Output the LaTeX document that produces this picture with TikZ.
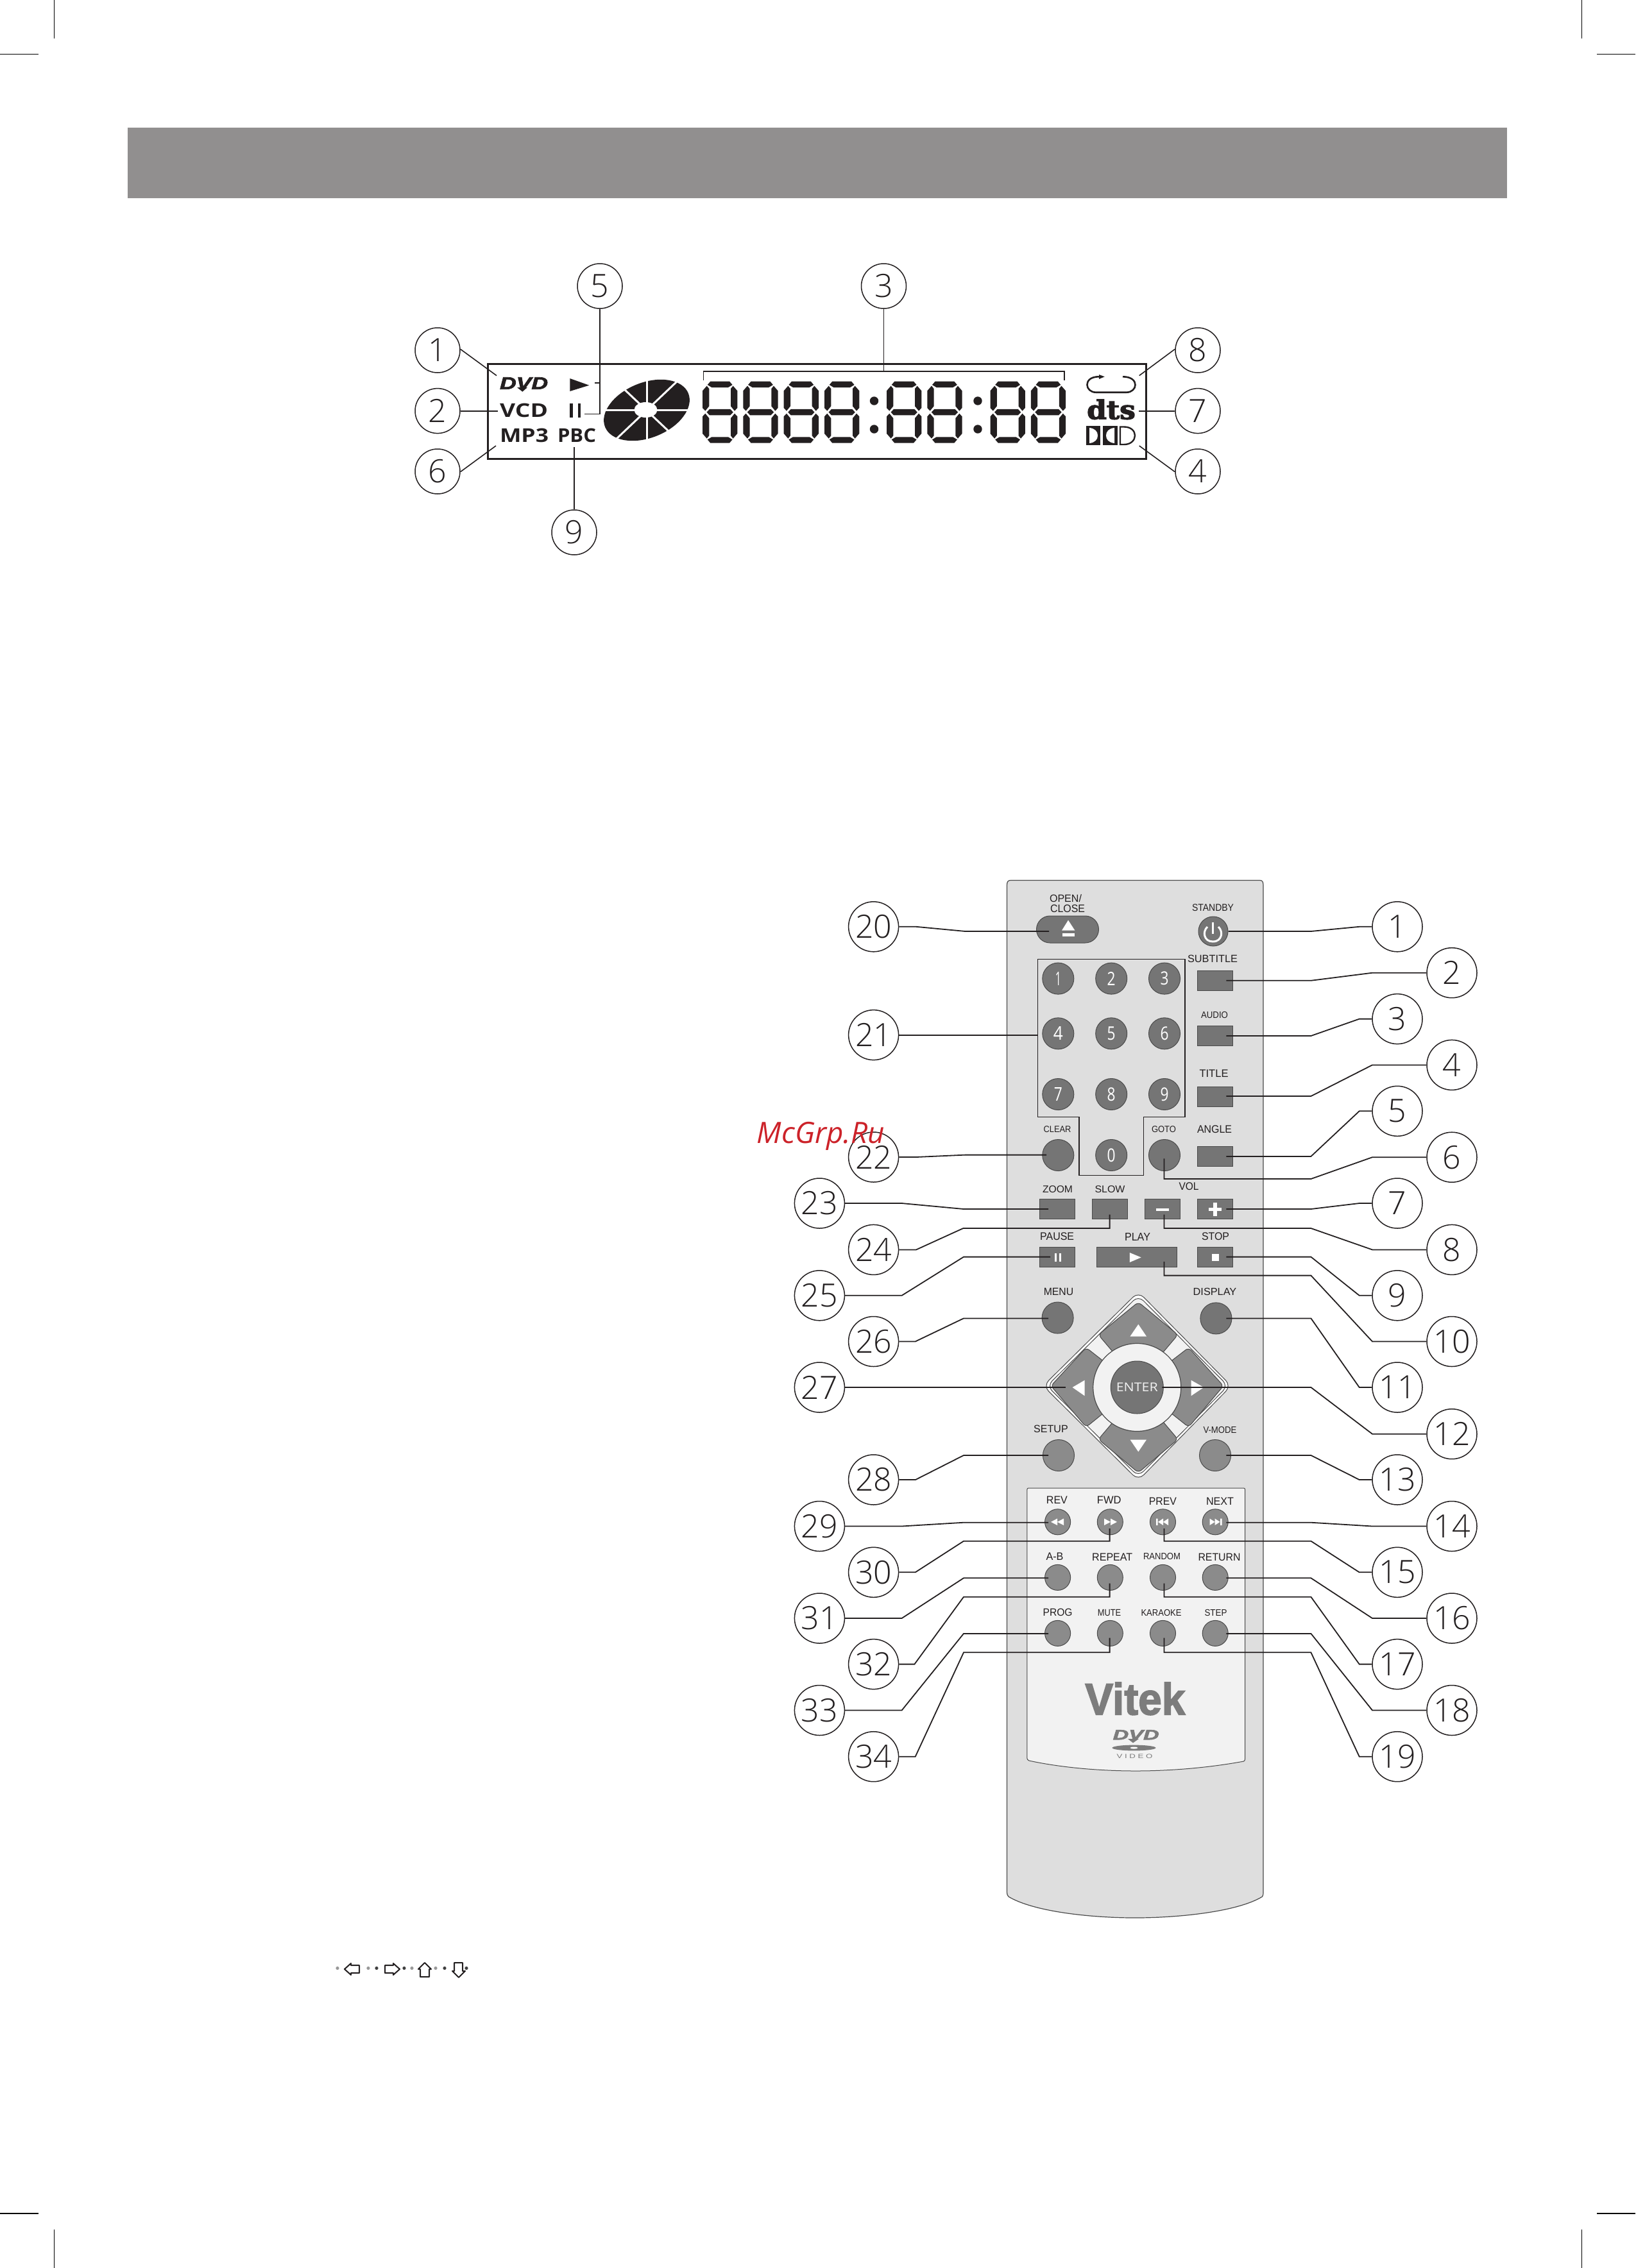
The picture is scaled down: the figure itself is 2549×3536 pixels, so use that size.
\documentclass[tikz,border=0pt]{standalone}
\usepackage{fontspec}
\usepackage{graphicx}
\setmainfont{Open Sans}
\newfontfamily\numf{Open Sans Light}
\newfontfamily\labf{Liberation Sans}
\newfontfamily\heavyf[FakeBold=2.5]{Liberation Sans}
\newfontfamily\dtsf[FakeBold=3]{DejaVu Serif}
\definecolor{ink}{HTML}{231F20}
\definecolor{band}{HTML}{918F8F}
\definecolor{bodyc}{HTML}{DEDEDE}
\definecolor{panelc}{HTML}{F2F2F2}
\definecolor{btnd}{HTML}{757575}
\definecolor{btnm}{HTML}{8B8B8B}
\definecolor{logoc}{HTML}{7C7C7C}
\definecolor{edge}{HTML}{4A4A4A}
\tikzset{
 num/.style={circle,draw=ink,line width=1.5pt,fill=white,inner sep=0pt,text=ink,font=\numf\fontsize{50}{50}\selectfont},
 numt/.style={num,minimum size=70pt},
 numr/.style={num,minimum size=78pt},
 conn/.style={draw=ink,line width=1.8pt,line join=miter},
 lcdl/.style={draw=ink,line width=1.6pt},
 lbl/.style={inner sep=0pt,text=ink,font=\labf},
 rbtn/.style={draw=edge,line width=1pt,fill=btnd,inner sep=0pt},
 rbtnm/.style={rbtn,fill=btnm},
 kcirc/.style={circle,rbtn,minimum size=49pt,text=white},
 mcirc/.style={circle,rbtnm,minimum size=49pt},
 scirc/.style={circle,rbtnm,minimum size=40pt},
 sqb/.style={rectangle,rbtn,minimum width=55pt,minimum height=31pt},
 icon/.style={fill=white,draw=none},
 pad/.style={fill=btnm,draw=edge,line width=1pt,rounded corners=6pt},
 crop/.style={draw=black,line width=1.6pt},
 arrowi/.style={draw=ink,line width=2pt,line join=round},
}
% label fitted into a box: name, x, y, width, height, text
\newcommand\lb[6]{\node[lbl] (#1) at (#2,#3) {\resizebox*{#4pt}{#5pt}{#6}};}
% connector: start node, middle path, end x, end y
\newcommand\cn[4]{\coordinate (e#1) at (#3,#4); \draw[conn] (#1) -- #2 -- (e#1);}
\begin{document}
\begin{tikzpicture}[x=1pt,y=-1pt]
\useasboundingbox (0,0) rectangle (2549,3536);
% crop marks
\draw[crop] (84.5,0) -- (84.5,60);
\draw[crop] (0,84.5) -- (60,84.5);
\draw[crop] (2465.5,0) -- (2465.5,60);
\draw[crop] (2489,84.5) -- (2549,84.5);
\draw[crop] (84.5,3476) -- (84.5,3536);
\draw[crop] (0,3451) -- (60,3451);
\draw[crop] (2465.5,3476) -- (2465.5,3536);
\draw[crop] (2489,3451) -- (2549,3451);
% band
\fill[band] (199,199) rectangle (2349,309);

%% ---------- LCD ----------
\draw[draw=ink,line width=3pt] (760.6,567) rectangle (1786,715);
% seven-segment digits
\foreach \dx in {1095,1158.3,1221.7,1285,1382,1445.3,1543.5,1606.8}{
 \begin{scope}[shift={(\dx,594.3)}]
  \fill[ink] (7.7,5.7)--(12.3,0.3)--(42,0.3)--(46.6,5.7)--(40,9.7)--(14.3,9.7)--cycle;
  \fill[ink] (7.7,91)--(12.3,96.4)--(42,96.4)--(46.6,91)--(40,87)--(14.3,87)--cycle;
  \fill[ink] (6.5,48.35)--(11,43.6)--(43.3,43.6)--(47.8,48.35)--(43.3,53.1)--(11,53.1)--cycle;
  \fill[ink] (0,15)--(6.7,7.3)--(10.3,11.7)--(10.3,39)--(4.3,46.3)--(0,41.7)--cycle;
  \fill[ink] (54.3,15)--(47.6,7.3)--(44,11.7)--(44,39)--(50,46.3)--(54.3,41.7)--cycle;
  \fill[ink] (0,81.7)--(6.7,89.4)--(10.3,85)--(10.3,57.7)--(4.3,50.4)--(0,55)--cycle;
  \fill[ink] (54.3,81.7)--(47.6,89.4)--(44,85)--(44,57.7)--(50,50.4)--(54.3,55)--cycle;
 \end{scope}}
\foreach \cx in {1362.5,1524}{
 \fill[ink] (\cx,625) circle[radius=6.7pt];
 \fill[ink] (\cx,669) circle[radius=6.7pt];}
% disc
\fill[ink,rotate around={22:(1008,639.5)}] (1008,639.5) ellipse[x radius=70pt,y radius=43pt];
\draw[white,line width=3pt] (935,639) -- (1080,639);
\draw[white,line width=3pt] (1008,588) -- (1008,692);
\draw[white,line width=3pt] (960,685) -- (1058,592);
\draw[white,line width=3pt] (972,606) -- (1044,674);
\fill[white] (1006.5,639) ellipse[x radius=18pt,y radius=12pt];
% texts of LCD
\node[lbl] (tdvd) at (816.6,597.5) {\resizebox*{75pt}{18.4pt}{\heavyf\itshape\bfseries DVD}};
\fill[ink] (806,604)--(822,604)--(814.3,610.7)--cycle;
\node[lbl,font=\bfseries] (tvcd) at (816.6,640.2) {\resizebox*{75pt}{21.7pt}{VCD}};
\node[lbl,font=\bfseries] (tmp3) at (817,679.2) {\resizebox*{76pt}{21.7pt}{MP3}};
\node[lbl,font=\bfseries] (tpbc) at (899,679.2) {\resizebox*{60pt}{21.7pt}{PBC}};
\fill[ink] (888.3,590)--(918.3,600.7)--(888.3,610)--cycle;
\fill[ink] (888.3,629.3) rectangle (892.7,651);
\fill[ink] (900.7,629.3) rectangle (905.3,651);
% repeat
\draw[ink,line width=2.6pt] (1713,587.3) .. controls (1698,587.3) and (1694.5,595) .. (1694.5,600)
  .. controls (1694.5,606) and (1700,611.7) .. (1708,611.7) -- (1756,611.7)
  .. controls (1764,611.7) and (1769.5,606) .. (1769.5,600) .. controls (1769.5,594) and (1764,587.3) .. (1750,587.3);
\fill[ink] (1721.7,587.3)--(1713,584)--(1713,591)--cycle;
\node[lbl] (tdts) at (1732,638.3) {\resizebox*{75.7pt}{31.3pt}{\dtsf\bfseries dts}};
% dolby
\fill[ink] (1693.3,664) rectangle (1715,694.3);
\fill[white] (1698,667) .. controls (1707,668) and (1711,673) .. (1711,679) .. controls (1711,685) and (1707,690) .. (1698,691) -- cycle;
\fill[ink] (1719.3,664) rectangle (1741.7,694.3);
\fill[white] (1737,667) .. controls (1728,668) and (1724,673) .. (1724,679) .. controls (1724,685) and (1728,690) .. (1737,691) -- cycle;
\draw[ink,line width=2.4pt] (1746,665.5) -- (1752,665.5) .. controls (1763,665.5) and (1769,672) .. (1769,679) .. controls (1769,686) and (1763,693) .. (1752,693) -- (1746,693) -- cycle;
% bracket
\draw[lcdl] (1096.4,593) -- (1096.4,579) -- (1658.7,579) -- (1658.7,593);
% LCD callouts
\node[numt] (t1) at (682,546) {1};
\node[numt] (t2) at (682,640.6) {2};
\node[numt] (t6) at (682,735) {6};
\node[numt] (t5) at (935,446) {5};
\node[numt] (t3) at (1377.5,446) {3};
\node[numt] (t8) at (1867,546) {8};
\node[numt] (t7) at (1867,640.6) {7};
\node[numt] (t4) at (1867,735) {4};
\node[numt] (t9) at (895,830) {9};
\coordinate (et1) at (774,585.6); \draw[lcdl] (t1) -- (718.5,545) -- (et1);
\coordinate (et2) at (775.7,640.6); \draw[lcdl,line width=2.2pt] (t2) -- (et2);
\coordinate (et6) at (773,695); \draw[lcdl] (t6) -- (718.5,735) -- (et6);
\coordinate (et5) at (911,645.3); \draw[lcdl] (t5) -- (935,645.3) -- (et5);
\coordinate (et5b) at (927,596.7); \draw[lcdl] (935,596.7) -- (et5b);
\coordinate (et3) at (1377.5,579); \draw[lcdl,line width=1.2pt] (t3) -- (et3);
\coordinate (et8) at (1775.7,585.6); \draw[lcdl] (t8) -- (1830.4,545) -- (et8);
\coordinate (et7) at (1775,640.6); \draw[lcdl,line width=2.2pt] (t7) -- (et7);
\coordinate (et4) at (1775.7,695); \draw[lcdl] (t4) -- (1830.4,735) -- (et4);
\coordinate (et9) at (895,697); \draw[lcdl,line width=1.2pt] (t9) -- (et9);

%% ---------- REMOTE ----------
\draw[draw=edge,line width=1.2pt,fill=bodyc] (1569.5,1380) .. controls (1569.5,1375) and (1571,1372.5) .. (1575,1372.5)
 -- (1964,1372.5) .. controls (1967.5,1372.5) and (1969,1375) .. (1969,1380)
 -- (1969,2950) .. controls (1969,2953) and (1969,2955) .. (1967.5,2957)
 .. controls (1930,2980) and (1840,2990) .. (1769,2990)
 .. controls (1698,2990) and (1610,2980) .. (1572,2957)
 .. controls (1570,2955) and (1569.5,2953) .. (1569.5,2950) -- cycle;
\draw[draw=edge,line width=1pt,fill=panelc] (1600.8,2323) .. controls (1600.8,2321) and (1601.5,2320) .. (1603,2320)
 -- (1938.5,2320) .. controls (1940,2320) and (1940.7,2321) .. (1940.7,2323)
 -- (1940.7,2741) .. controls (1940.7,2744) and (1940,2745.5) .. (1938.5,2746)
 .. controls (1890,2755) and (1830,2761) .. (1770,2761)
 .. controls (1710,2761) and (1650,2755) .. (1604,2745)
 .. controls (1602,2744) and (1600.8,2743) .. (1600.8,2741) -- cycle;
% keypad frame
\draw[draw=ink,line width=1.5pt] (1617.4,1495.7) -- (1847,1495.7) -- (1847,1741.3) -- (1782.5,1741.3) -- (1782.5,1832.3) -- (1681.8,1832.3) -- (1681.8,1741.3) -- (1617.4,1741.3) -- cycle;
% eject, standby
\node[rbtn,rectangle,rounded corners=21pt,minimum width=97pt,minimum height=42pt] (bEject) at (1664,1449) {};
\fill[icon] (1665,1434.6)--(1655,1450.6)--(1675.4,1450.6)--cycle;
\fill[icon] (1656,1454.6) rectangle (1675,1460.4);
\node[circle,rbtn,minimum size=46pt] (bStandby) at (1891,1452) {};
\draw[white,line width=3pt] (1882,1445) .. controls (1874,1452) and (1876,1468) .. (1890.4,1468) .. controls (1905,1468) and (1907,1452) .. (1899,1445);
\draw[white,line width=3pt] (1890.4,1438) -- (1890.4,1456);
% digit keys
\node[kcirc] (k1) at (1649.3,1525.6) {\resizebox*{9pt}{21pt}{1}};
\node[kcirc] (k2) at (1732.2,1525.6) {\resizebox*{13pt}{21pt}{2}};
\node[kcirc] (k3) at (1815,1525.6) {\resizebox*{13pt}{21pt}{3}};
\node[kcirc] (k4) at (1649.3,1611.3) {\resizebox*{15pt}{21pt}{4}};
\node[kcirc] (k5) at (1732.2,1611.3) {\resizebox*{13pt}{21pt}{5}};
\node[kcirc] (k6) at (1815,1611.3) {\resizebox*{13pt}{21pt}{6}};
\node[kcirc] (k7) at (1649.3,1706) {\resizebox*{13pt}{21pt}{7}};
\node[kcirc] (k8) at (1732.2,1706) {\resizebox*{13pt}{21pt}{8}};
\node[kcirc] (k9) at (1815,1706) {\resizebox*{13pt}{21pt}{9}};
\node[kcirc] (k0) at (1732.2,1801) {\resizebox*{13pt}{21pt}{0}};
\node[kcirc] (bClear) at (1649.3,1801) {};
\node[kcirc] (bGoto) at (1815,1801) {};
% square keys
\node[sqb] (bSub) at (1894.2,1528.8) {};
\node[sqb] (bAudio) at (1894.2,1615) {};
\node[sqb] (bTitle) at (1894.2,1709.5) {};
\node[sqb] (bAngle) at (1894.2,1802.8) {};
\node[sqb] (bZoom) at (1648,1885) {};
\node[sqb] (bSlow) at (1730.3,1885) {};
\node[sqb] (bMinus) at (1812.3,1885) {};
\node[sqb] (bPlus) at (1894.2,1885) {};
\node[sqb] (bPause) at (1648,1959.6) {};
\node[sqb,minimum width=125pt] (bPlay) at (1772.3,1959.6) {};
\node[sqb] (bStop) at (1894.2,1959.6) {};
\fill[icon] (1801.7,1883.7) rectangle (1822,1888);
\fill[icon] (1884,1883) rectangle (1903.7,1887.5);
\fill[icon] (1891,1875) rectangle (1896.5,1895.5);
\fill[icon] (1643.5,1953.8) rectangle (1646.7,1967);
\fill[icon] (1650.5,1953.8) rectangle (1654,1967);
\fill[icon] (1760.9,1953) -- (1778.7,1960.4) -- (1760.9,1968) -- cycle;
\fill[icon] (1889,1955) rectangle (1900,1966);
% upper round keys
\node[kcirc] (bMenu) at (1648.6,2054.5) {};
\node[kcirc] (bDisplay) at (1895.4,2055.4) {};
\node[mcirc] (bSetup) at (1650,2269) {};
\node[mcirc] (bVmode) at (1894,2269) {};
% d-pad
\draw[draw=edge,line width=1pt,fill=white,rounded corners=12pt] (1774.3,2014) -- (1919,2160.7) -- (1774.3,2308) -- (1626,2160.7) -- cycle;
\draw[draw=edge,line width=1pt,fill=panelc,rounded corners=11pt] (1774.3,2020) -- (1914,2160.7) -- (1774.3,2302) -- (1632,2160.7) -- cycle;
\draw[pad] (1774.3,2030) -- (1712,2081) -- (1745,2120) -- (1803,2120) -- (1836,2081) -- cycle;
\draw[pad] (1774.3,2296) -- (1712,2244) -- (1745,2205) -- (1803,2205) -- (1836,2244) -- cycle;
\draw[pad] (1638,2160.7) -- (1693,2101) -- (1730,2130) -- (1730,2195) -- (1693,2225) -- cycle;
\draw[pad] (1907,2160.7) -- (1852.7,2101) -- (1815,2130) -- (1815,2195) -- (1852.7,2225) -- cycle;
\fill[icon] (1774.3,2064.7)--(1761.5,2083.5)--(1787,2083.5)--cycle;
\fill[icon] (1774.3,2263.4)--(1761.5,2244.6)--(1787,2244.6)--cycle;
\fill[icon] (1671.6,2163)--(1690.7,2151.8)--(1690.7,2176.3)--cycle;
\fill[icon] (1876.3,2163)--(1856.5,2151.8)--(1856.5,2176.3)--cycle;
\node[circle,draw=edge,line width=1.2pt,fill=panelc,minimum size=137pt,inner sep=0pt] (bRing) at (1772.3,2163) {};
\node[circle,rbtn,minimum size=82pt,text=panelc] (bEnter) at (1772.3,2163) {\resizebox*{65pt}{13.5pt}{ENTER}};
% small round keys
\node[scirc] (bRev) at (1648.6,2372.8) {};
\node[scirc] (bFwd) at (1730.3,2372.8) {};
\node[scirc] (bPrev) at (1812.5,2372.8) {};
\node[scirc] (bNext) at (1894.2,2372.8) {};
\node[scirc] (bAB) at (1648.6,2459.4) {};
\node[scirc] (bRepeat) at (1730.3,2459.4) {};
\node[scirc] (bRandom) at (1812.5,2459.4) {};
\node[scirc] (bReturn) at (1894.2,2459.4) {};
\node[scirc] (bProg) at (1648.6,2546.4) {};
\node[scirc] (bMute) at (1730.3,2546.4) {};
\node[scirc] (bKaraoke) at (1812.5,2546.4) {};
\node[scirc] (bStep) at (1894.2,2546.4) {};
\fill[icon] (1638,2372.8)--(1648,2367.5)--(1648,2378)--cycle (1648,2372.8)--(1658,2367.5)--(1658,2378)--cycle;
\fill[icon] (1741,2372.8)--(1731,2367.5)--(1731,2378)--cycle (1731,2372.8)--(1721,2367.5)--(1721,2378)--cycle;
\fill[icon] (1802,2367.5) rectangle (1804.5,2378) (1805,2372.8)--(1813,2367.5)--(1813,2378)--cycle (1813,2372.8)--(1821,2367.5)--(1821,2378)--cycle;
\fill[icon] (1904.5,2367.5) rectangle (1902,2378) (1901.5,2372.8)--(1893.5,2367.5)--(1893.5,2378)--cycle (1893.5,2372.8)--(1885.5,2367.5)--(1885.5,2378)--cycle;
% labels
\lb{lOpen}{1661}{1401}{50}{12}{OPEN/}
\lb{lClose}{1664}{1417}{54}{12}{CLOSE}
\lb{lStandby}{1890.5}{1415}{65}{11}{STANDBY}
\lb{lSub}{1890}{1495.3}{78}{11.6}{SUBTITLE}
\lb{lAudio}{1893}{1582.5}{42}{10.3}{AUDIO}
\lb{lTitle}{1892}{1674}{45}{11.6}{TITLE}
\lb{lAngle}{1893}{1761}{54}{12}{ANGLE}
\lb{lGoto}{1814}{1761}{38}{10}{GOTO}
\lb{lClear}{1648}{1761}{43}{10}{CLEAR}
\lb{lZoom}{1648.5}{1854.5}{47}{11}{ZOOM}
\lb{lSlow}{1730}{1854.5}{47}{11}{SLOW}
\lb{lVol}{1853}{1850}{31}{12}{VOL}
\lb{lPause}{1647.6}{1928}{53}{12}{PAUSE}
\lb{lPlay}{1773}{1928}{40}{12}{PLAY}
\lb{lStop}{1894.5}{1928}{43}{12}{STOP}
\lb{lMenu}{1650}{2014}{46.5}{11.4}{MENU}
\lb{lDisplay}{1893.5}{2014}{67.6}{11.4}{DISPLAY}
\lb{lSetup}{1638}{2228}{53.6}{11.6}{SETUP}
\lb{lVmode}{1901.5}{2229}{52}{10.3}{V-MODE}
\lb{lRev}{1647.4}{2339}{33}{11.6}{REV}
\lb{lFwd}{1728.7}{2339}{37.6}{11.6}{FWD}
\lb{lPrev}{1812.4}{2340.6}{43}{11.6}{PREV}
\lb{lNext}{1901.5}{2340.6}{43}{11.6}{NEXT}
\lb{lAB}{1644}{2427}{27}{11.6}{A-B}
\lb{lRepeat}{1733.7}{2428}{63}{11.6}{REPEAT}
\lb{lRandom}{1811}{2426.5}{58}{10.3}{RANDOM}
\lb{lReturn}{1900.5}{2428}{66}{11.6}{RETURN}
\lb{lProg}{1648.6}{2514}{46}{11.6}{PROG}
\lb{lMute}{1729}{2514.5}{36.5}{10.3}{MUTE}
\lb{lKaraoke}{1810}{2514.5}{63}{10.3}{KARAOKE}
\lb{lStep}{1895}{2514.5}{35}{10.3}{STEP}
% logos
\node[lbl,text=logoc] (lVitek) at (1769.3,2648.4) {\resizebox*{156pt}{51pt}{\heavyf\bfseries Vitek}};
\node[lbl,text=logoc] (lDvd) at (1770.7,2704.7) {\resizebox*{72pt}{15pt}{\heavyf\itshape\bfseries DVD}};
\fill[logoc] (1758,2711)--(1775,2711)--(1766,2717.3)--cycle;
\fill[logoc] (1767.5,2725) ellipse[x radius=34pt,y radius=4.4pt];
\fill[white] (1767.5,2725) ellipse[x radius=6pt,y radius=1.5pt];
\lb{lVideo}{1768.5}{2738.4}{56}{6.7}{\textcolor{logoc}{V I D E O}}
% callout circles, remote
\foreach \nm/\n/\cx/\cy in {r1/1/2178/1444.8,r2/2/2263/1516.7,r3/3/2178/1588.6,r4/4/2263/1660.4,r5/5/2178/1732.3,r6/6/2263/1804.2,r7/7/2178/1876,r8/8/2263/1948.4,r9/9/2178/2019.8,r10/10/2263/2091.5,r11/11/2178/2163,r12/12/2263/2235.7,r13/13/2178/2307,r14/14/2263/2379.5,r15/15/2178/2451.3,r16/16/2263/2523,r17/17/2178/2594.6,r18/18/2263/2666.5,r19/19/2178/2738.7,r20/20/1361.6/1444.8,r21/21/1361.6/1613.6,r22/22/1361.6/1804,r23/23/1277.4/1876,r24/24/1361.6/1948.4,r25/25/1277.4/2019.8,r26/26/1361.6/2091.5,r27/27/1277.4/2163,r28/28/1361.6/2307,r29/29/1277.4/2379.5,r30/30/1361.6/2451.3,r31/31/1277.4/2523,r32/32/1361.6/2594.6,r33/33/1277.4/2666.5,r34/34/1361.6/2738.7}{
 \node[numr] (\nm) at (\cx,\cy) {\n};}
% connectors right
\cn{r1}{(2118.7,1444.8) -- (2043.4,1452)}{1914.6}{1452}
\cn{r2}{(2139,1516.7) -- (2043.4,1528.8)}{1911.4}{1528.8}
\cn{r3}{(2118.7,1588.6) -- (2043.4,1615)}{1911.4}{1615}
\cn{r4}{(2139,1660.4) -- (2043.4,1709)}{1911.4}{1709}
\cn{r5}{(2118.7,1732.3) -- (2043.4,1802.9)}{1911.4}{1802.9}
\cn{r6}{(2139,1804.2) -- (2043.4,1838) -- (1814.4,1838)}{1814.4}{1806.4}
\cn{r7}{(2118.7,1876) -- (2043.4,1885)}{1911.4}{1885}
\cn{r8}{(2139,1948.4) -- (2043.4,1915) -- (1814.4,1915)}{1814.4}{1893.5}
\cn{r9}{(2118.7,2019.8) -- (2043.4,1959.6)}{1911.4}{1959.6}
\cn{r10}{(2139,2091.5) -- (2043.4,1988.6) -- (1814.4,1988.6)}{1814.4}{1967}
\cn{r11}{(2118.7,2163) -- (2043.4,2055.4)}{1911.4}{2055.4}
\cn{r12}{(2139,2235.7) -- (2043.4,2163)}{1811.3}{2163}
\cn{r13}{(2118.7,2307) -- (2043.4,2269)}{1911.4}{2269}
\cn{r14}{(2139,2379.5) -- (2043.4,2373.7)}{1911.4}{2373.7}
\cn{r15}{(2118.7,2451.3) -- (2043.4,2402.7) -- (1814.4,2402.7)}{1814.4}{2383}
\cn{r16}{(2139,2523) -- (2043.4,2460.3)}{1911.4}{2460.3}
\cn{r17}{(2118.7,2594.6) -- (2043.4,2489.7) -- (1814.4,2489.7)}{1814.4}{2468.7}
\cn{r18}{(2139,2666.5) -- (2043.4,2546.9)}{1911.4}{2546.9}
\cn{r19}{(2118.7,2738.7) -- (2043.4,2576.3) -- (1814.4,2576.3)}{1814.4}{2553.6}
% connectors left
\cn{r20}{(1428,1444.8) -- (1504.5,1452)}{1635}{1452}
\coordinate (er21) at (1617.4,1613.6); \draw[conn] (r21) -- (er21);
\cn{r22}{(1428,1804) -- (1504.5,1800.6)}{1631}{1800.6}
\cn{r23}{(1405.6,1876) -- (1502,1885)}{1634}{1885}
\cn{r24}{(1428,1948.4) -- (1501.3,1915) -- (1729.6,1915)}{1729.6}{1893.5}
\cn{r25}{(1405.6,2019.8) -- (1502,1959.6)}{1637}{1959.6}
\cn{r26}{(1426.7,2091.5) -- (1502,2055.4)}{1634}{2055.4}
\coordinate (er27) at (1660.7,2163); \draw[conn] (r27) -- (er27);
\cn{r28}{(1427,2307) -- (1502,2269)}{1634}{2269}
\cn{r29}{(1405.6,2379.5) -- (1502,2373.7)}{1634}{2373.7}
\cn{r30}{(1426.7,2451.3) -- (1502,2402.7) -- (1729.6,2402.7)}{1729.6}{2383}
\cn{r31}{(1405.6,2523) -- (1502,2460.3)}{1634}{2460.3}
\cn{r32}{(1425.4,2594.6) -- (1502,2489.7) -- (1729.6,2489.7)}{1729.6}{2468.7}
\cn{r33}{(1405.6,2666.5) -- (1502,2546.9)}{1634}{2546.9}
\cn{r34}{(1426.7,2738.7) -- (1502,2576.3) -- (1729.6,2576.3)}{1729.6}{2553.6}
% watermark
\node[inner sep=0pt,text={rgb,255:red,204;green,34;blue,41}] (wm) at (1279.5,1771) {\resizebox{199pt}{!}{\itshape McGrp.Ru}};
% arrow glyphs
\foreach \dxx/\shade in {526/40,574/40,587/75,630/75,642/40,679/40,693/75,727/75}{
 \fill[black!\shade] (\dxx,3068.5) circle[radius=2.6pt];}
\draw[arrowi] (537,3070)--(547,3061)--(547,3064)--(560,3064)--(560,3076)--(547,3076)--(547,3079)--cycle;
\draw[arrowi] (623,3070)--(613,3061)--(613,3064)--(600,3064)--(600,3076)--(613,3076)--(613,3079)--cycle;
\draw[arrowi] (662,3060)--(672,3070)--(669,3070)--(669,3082)--(655,3082)--(655,3070)--(652,3070)--cycle;
\draw[arrowi] (715,3083)--(725,3073)--(721,3073)--(721,3060)--(708,3060)--(708,3073)--(705,3073)--cycle;
\end{tikzpicture}
\end{document}
